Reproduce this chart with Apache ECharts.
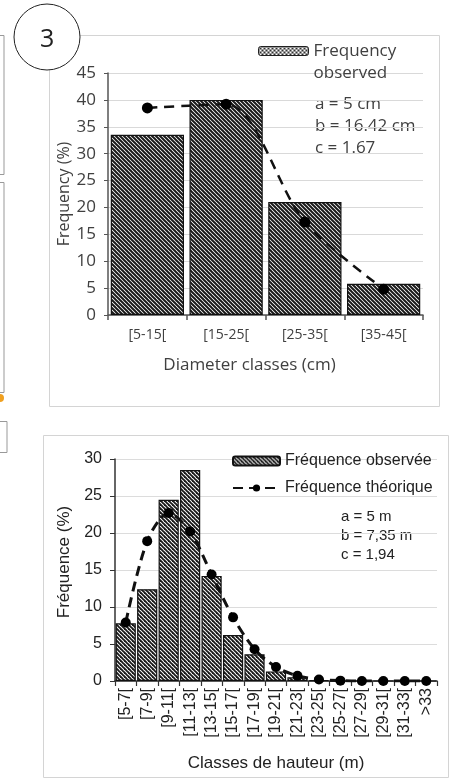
<!DOCTYPE html>
<html>
<head>
<meta charset="utf-8">
<script src="https://cdn.jsdelivr.net/npm/echarts@6/dist/echarts.min.js"></script>
<style>
  html, body { margin: 0; padding: 0; background: #fff; }
  #main { width: 450px; height: 779px; }
</style>
</head>
<body>
<div id="main"></div>
<script>
// top panel: diameter classes
var diamClasses = ['[5-15[', '[15-25[', '[25-35[', '[35-45['];
var diamObserved = [33.5, 40, 21, 5.8];
var diamTheoric = [38.5, 39.2, 17.3, 4.8];
var diamTicks = [0, 5, 10, 15, 20, 25, 30, 35, 40, 45];

// bottom panel: height classes
var heightClasses = ['[5-7[', '[7-9[', '[9-11[', '[11-13[', '[13-15[', '[15-17[', '[17-19[', '[19-21[',
  '[21-23[', '[23-25[', '[25-27[', '[27-29[', '[29-31[', '[31-33[', '>33'];
var heightObserved = [7.8, 12.4, 24.5, 28.5, 14.2, 6.2, 3.6, 1.3, 0.5, 0.1, 0, 0, 0, 0, 0];
var heightTheoric = [7.9, 18.9, 22.7, 20.2, 14.4, 8.6, 4.3, 1.9, 0.7, 0.2, 0.05, 0, 0, 0, 0];
var heightTicks = [0, 5, 10, 15, 20, 25, 30];

// hatch patterns
function hatch(p, lw) {
  var c = document.createElement('canvas');
  c.width = p; c.height = p;
  var ctx = c.getContext('2d');
  ctx.fillStyle = '#fff';
  ctx.fillRect(0, 0, p, p);
  ctx.strokeStyle = '#1a1a1a';
  ctx.lineWidth = lw;
  for (var k = -1; k <= 1; k++) {
    ctx.beginPath();
    ctx.moveTo(-1, k * p - 1);
    ctx.lineTo(p + 1, p + k * p + 1);
    ctx.stroke();
  }
  return { image: c, repeat: 'repeat' };
}
function cross(p) {
  var c = document.createElement('canvas');
  c.width = p; c.height = p;
  var ctx = c.getContext('2d');
  ctx.fillStyle = '#fff';
  ctx.fillRect(0, 0, p, p);
  ctx.strokeStyle = '#333';
  ctx.lineWidth = 1;
  for (var k = -1; k <= 1; k++) {
    ctx.beginPath(); ctx.moveTo(0, k * p); ctx.lineTo(p, p + k * p); ctx.stroke();
    ctx.beginPath(); ctx.moveTo(0, p + k * p); ctx.lineTo(p, k * p); ctx.stroke();
  }
  return { image: c, repeat: 'repeat' };
}
var hatchTop = hatch(4, 2);
var hatchBottom = hatch(4, 1.9);

var chart = echarts.init(document.getElementById('main'));
var topFont = 'Open Sans';
var botFont = 'Liberation Sans';

var option = {
  animation: false,
  backgroundColor: '#fff',
  grid: [
    { left: 108, top: 73, width: 315, height: 242, outerBoundsMode: 'none' },
    { left: 115, top: 459, width: 322, height: 222, outerBoundsMode: 'none' }
  ],
  legend: [
    {
      left: 253, top: 13, itemWidth: 50, itemHeight: 9,
      data: [{ name: 'Frequency observed', itemStyle: { color: cross(4), borderColor: '#222', borderWidth: 1 } }],
      formatter: function () { return ' \nFrequency\nobserved'; },
      textStyle: { fontFamily: topFont, fontSize: 17, color: '#404040', lineHeight: 22 },
      itemGap: 6
    },
    {
      left: 227, top: 448, orient: 'vertical', itemWidth: 47, itemHeight: 9, itemGap: 11,
      data: ['Fréquence observée', 'Fréquence théorique'],
      textStyle: { fontFamily: botFont, fontSize: 16, color: '#222' }
    }
  ],
  xAxis: [
    {
      gridIndex: 0, type: 'category', data: diamClasses,
      name: 'Diameter classes (cm)', nameLocation: 'middle', nameGap: 42, nameMoveOverlap: false,
      nameTextStyle: { fontFamily: topFont, fontSize: 17, color: '#404040', padding: [0, 32, 0, 0] },
      axisLine: { lineStyle: { color: '#555', width: 1.5 } },
      axisTick: { show: true, length: 5, lineStyle: { color: '#555', width: 1.5 } },
      axisLabel: { fontFamily: topFont, fontSize: 14, color: '#404040', margin: 13 }
    },
    {
      gridIndex: 1, type: 'category', data: heightClasses,
      name: 'Classes de hauteur (m)', nameLocation: 'middle', nameGap: 74, nameMoveOverlap: false,
      nameTextStyle: { fontFamily: botFont, fontSize: 17, color: '#222' },
      axisLine: { lineStyle: { color: '#333', width: 1.5 } },
      axisTick: { show: true, length: 5, lineStyle: { color: '#333', width: 1.2 } },
      axisLabel: {
        rotate: 90, margin: 7, interval: 0, hideOverlap: false,
        fontFamily: botFont, fontSize: 16, color: '#222'
      }
    }
  ],
  yAxis: [
    {
      gridIndex: 0, type: 'value', min: diamTicks[0], max: diamTicks[diamTicks.length - 1], interval: 5,
      name: 'Frequency (%)', nameLocation: 'middle', nameGap: 36, nameMoveOverlap: false,
      nameTextStyle: { fontFamily: topFont, fontSize: 16, color: '#404040' },
      axisLine: { show: true, lineStyle: { color: '#555', width: 1.5 } },
      axisTick: { show: true, length: 4, lineStyle: { color: '#555' } },
      axisLabel: { fontFamily: topFont, fontSize: 17, color: '#404040', margin: 12 },
      splitLine: { lineStyle: { color: '#d9d9d9', width: 1 } }
    },
    {
      gridIndex: 1, type: 'value', min: heightTicks[0], max: heightTicks[heightTicks.length - 1], interval: 5,
      name: 'Fréquence (%)', nameLocation: 'middle', nameGap: 42, nameMoveOverlap: false,
      nameTextStyle: { fontFamily: botFont, fontSize: 17, color: '#222', padding: [0, 0, 0, 16] },
      axisLine: { show: true, lineStyle: { color: '#333', width: 1.5 } },
      axisTick: { show: true, length: 5, lineStyle: { color: '#333' } },
      axisLabel: { fontFamily: botFont, fontSize: 16, color: '#222', margin: 13 },
      splitLine: { lineStyle: { color: '#dcdcdc', width: 1 } }
    }
  ],
  series: [
    {
      name: 'Frequency observed', type: 'bar', xAxisIndex: 0, yAxisIndex: 0,
      data: diamObserved, barCategoryGap: '7%',
      itemStyle: { color: hatchTop, borderColor: '#111', borderWidth: 1.2 }
    },
    {
      name: 'Frequency theoric', type: 'line', xAxisIndex: 0, yAxisIndex: 0,
      data: diamTheoric, smooth: 0.3, symbol: 'circle', symbolSize: 11,
      itemStyle: { color: '#000' },
      lineStyle: { color: '#111', width: 2.5, type: [10, 7] },
      z: 5
    },
    {
      name: 'Fréquence observée', type: 'bar', xAxisIndex: 1, yAxisIndex: 1,
      data: heightObserved, barCategoryGap: '6%',
      itemStyle: { color: hatchBottom, borderColor: '#111', borderWidth: 1.2 }
    },
    {
      name: 'Fréquence théorique', type: 'line', xAxisIndex: 1, yAxisIndex: 1,
      data: heightTheoric, smooth: 0.3, symbol: 'circle', symbolSize: 10,
      itemStyle: { color: '#000' },
      lineStyle: { color: '#111', width: 3, type: [10, 6] },
      z: 5
    }
  ],
  graphic: [
    // panel frames
    { type: 'rect', shape: { x: 49.5, y: 35.5, width: 390, height: 371 }, style: { fill: 'none', stroke: '#d4d4d4', lineWidth: 1 }, z: -10 },
    { type: 'rect', shape: { x: 43.5, y: 435.5, width: 405, height: 342 }, style: { fill: 'none', stroke: '#d4d4d4', lineWidth: 1 }, z: -10 },
    // fragments of neighbouring panels
    { type: 'rect', shape: { x: -10, y: 35.5, width: 14, height: 139 }, style: { fill: 'none', stroke: '#999', lineWidth: 1 } },
    { type: 'rect', shape: { x: -10, y: 182.5, width: 14, height: 210 }, style: { fill: 'none', stroke: '#999', lineWidth: 1 } },
    { type: 'circle', shape: { cx: 0, cy: 398, r: 4 }, style: { fill: '#f0a020' } },
    { type: 'rect', shape: { x: -10, y: 421.5, width: 17, height: 31 }, style: { fill: 'none', stroke: '#999', lineWidth: 1 } },
    // panel number
    { type: 'circle', shape: { cx: 47, cy: 37, r: 33 }, style: { fill: '#fff', stroke: '#222', lineWidth: 1 }, z: 10 },
    { type: 'text', left: 40, top: 27, style: { text: '3', fontFamily: topFont, fontSize: 25, fill: '#222' }, z: 11 },
    // parameters
    { type: 'text', left: 315, top: 93, style: { text: 'a = 5 cm\nb = 16.42 cm\nc = 1.67', fontFamily: topFont, fontSize: 17, lineHeight: 22, fill: '#404040' } },
    { type: 'text', left: 341, top: 507, style: { text: 'a = 5 m\nb = 7,35 m\nc = 1,94', fontFamily: botFont, fontSize: 15, lineHeight: 19, fill: '#222' } }
  ]
};
chart.setOption(option);
</script>
</body>
</html>
